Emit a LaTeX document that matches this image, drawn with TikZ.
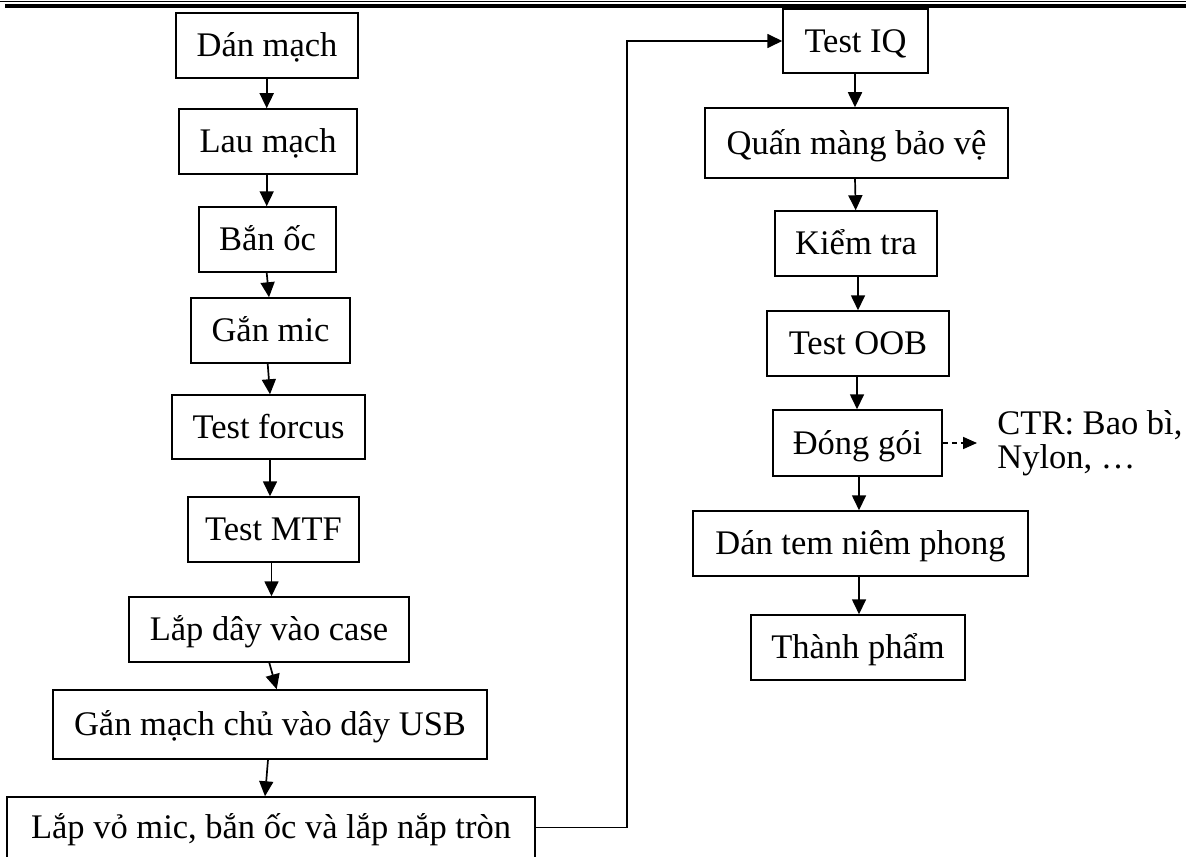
\documentclass[tikz,border=0pt]{standalone}
\usepackage{fontspec}
\setmainfont{Liberation Serif}
\usetikzlibrary{arrows.meta}
\newcommand{\stepfont}{\fontsize{17.25}{17}\selectfont}
% \procbox{name}{left}{right}{top}{bottom}{label}
\newcommand{\procbox}[6]{%
  \node[stepbox, minimum width={(#3-#2)*0.5pt}, minimum height={(#5-#4)*0.5pt}]
    (#1) at ({(#2+#3)/2},{(#4+#5)/2}) {#6};}
\begin{document}
\begin{tikzpicture}[x=0.5pt, y=-0.5pt, font=\stepfont,
  stepbox/.style={draw, line width=0.75pt, inner sep=0pt,
    text height=16pt, text depth=4.6pt},
  flow/.style={line width=0.85pt, -{Triangle[length=7.5pt, width=7pt]}},
  sideflow/.style={line width=0.85pt, dash pattern=on 2.5pt off 2pt,
    -{Triangle[length=7pt, width=6pt]}}]
\fill[white] (0,0) rectangle (1186,856);
\useasboundingbox (0,0) rectangle (1186,856);
% header rules
\fill[black] (0,1) rectangle (1186,2.4);
\fill[black] (5,4) rectangle (1186,8.4);
% left column
\procbox{a1}{176}{358}{13}{78}{Dán mạch}
\procbox{a2}{179}{357}{109}{174}{Lau mạch}
\procbox{a3}{199}{336}{207}{272}{Bắn ốc}
\procbox{a4}{191}{350}{298}{363}{Gắn mic}
\procbox{a5}{172}{365}{395}{459}{Test forcus}
\procbox{a6}{188}{359}{497}{562}{Test MTF}
\procbox{a7}{129}{409}{597}{662}{Lắp dây vào case}
\procbox{a8}{53}{487}{690}{759}{Gắn mạch chủ vào dây USB}
\procbox{a9}{7}{535}{797}{858}{Lắp vỏ mic, bắn ốc và lắp nắp tròn}
% right column
\procbox{b1}{783}{928}{9}{73}{Test IQ}
\procbox{b2}{705}{1008}{108}{178}{Quấn màng bảo vệ}
\procbox{b3}{775}{937}{211}{276}{Kiểm tra}
\procbox{b4}{767}{949}{311}{376}{Test OOB}
\procbox{b5}{773}{942}{410}{476}{Đóng gói}
\procbox{b6}{693}{1028}{511}{576}{Dán tem niêm phong}
\procbox{b7}{751}{965}{615}{680}{Thành phẩm}
\node[anchor=west, align=left, inner sep=0pt] (ctr) at (997,443)
  {CTR: Bao bì,\\Nylon, …};
% left column links
\draw[flow] (a1.south -| 266.7,0) -- (a2.north -| 266.7,0);
\draw[flow] (a2.south -| 266.7,0) -- (a3.north -| 266.7,0);
\draw[flow] (a3.south -| 266.7,0) -- (a4.north -| 269,0);
\draw[flow] (a4.south -| 267.7,0) -- (a5.north -| 270,0);
\draw[flow] (a5.south -| 270,0) -- (a6.north -| 270,0);
\draw[flow] (a6.south -| 271.5,0) -- (a7.north -| 271.5,0);
\draw[flow] (a7.south -| 269.3,0) -- (a8.north -| 276.7,0);
\draw[flow] (a8.south -| 268,0) -- (a9.north -| 265,0);
% loop over to the second column
\coordinate (bend) at (627,41);
\draw[flow] (a9.east) -| (bend) -- (b1.west);
% right column links
\draw[flow] (b1.south -| 855,0) -- (b2.north -| 855,0);
\draw[flow] (b2.south -| 855,0) -- (b3.north -| 855.7,0);
\draw[flow] (b3.south -| 858,0) -- (b4.north -| 858,0);
\draw[flow] (b4.south -| 857,0) -- (b5.north -| 857,0);
\draw[flow] (b5.south -| 859,0) -- (b6.north -| 859,0);
\draw[flow] (b6.south -| 859,0) -- (b7.north -| 859,0);
\draw[sideflow, shorten >=10pt] (b5.east) -- (ctr.west);
\end{tikzpicture}
\end{document}
